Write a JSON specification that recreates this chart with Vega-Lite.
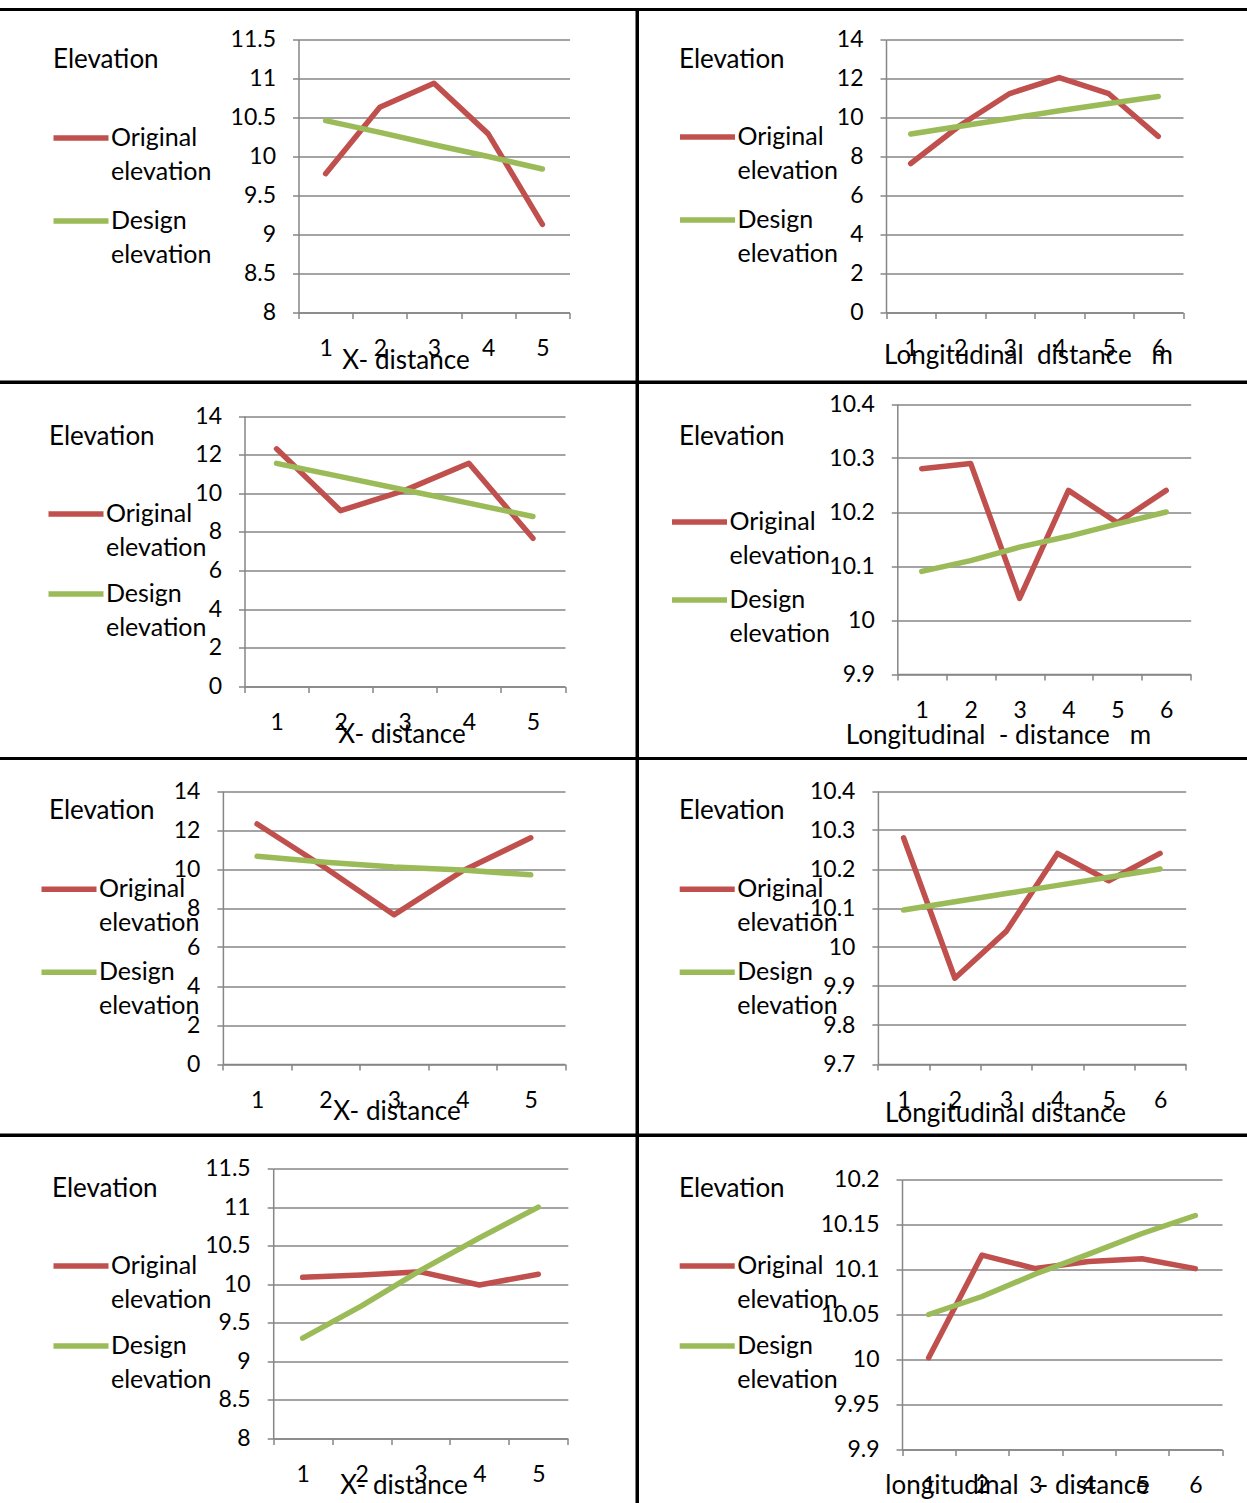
{
  "$schema": "https://vega.github.io/schema/vega-lite/v6.json",
  "background": "white",
  "padding": {"left": -3.5, "top": 7.5, "right": 0, "bottom": 0},
  "datasets": {
    "p1": [
      {"point": 1, "series": "Original elevation", "elevation": 9.78},
      {"point": 2, "series": "Original elevation", "elevation": 10.63},
      {"point": 3, "series": "Original elevation", "elevation": 10.94},
      {"point": 4, "series": "Original elevation", "elevation": 10.29},
      {"point": 5, "series": "Original elevation", "elevation": 9.13},
      {"point": 1, "series": "Design elevation", "elevation": 10.46},
      {"point": 2, "series": "Design elevation", "elevation": 10.31},
      {"point": 3, "series": "Design elevation", "elevation": 10.15},
      {"point": 4, "series": "Design elevation", "elevation": 10.0},
      {"point": 5, "series": "Design elevation", "elevation": 9.84}
    ],
    "p2": [
      {"point": 1, "series": "Original elevation", "elevation": 7.64},
      {"point": 2, "series": "Original elevation", "elevation": 9.6},
      {"point": 3, "series": "Original elevation", "elevation": 11.23},
      {"point": 4, "series": "Original elevation", "elevation": 12.05},
      {"point": 5, "series": "Original elevation", "elevation": 11.22},
      {"point": 6, "series": "Original elevation", "elevation": 9.03},
      {"point": 1, "series": "Design elevation", "elevation": 9.15},
      {"point": 2, "series": "Design elevation", "elevation": 9.55},
      {"point": 3, "series": "Design elevation", "elevation": 9.95},
      {"point": 4, "series": "Design elevation", "elevation": 10.35},
      {"point": 5, "series": "Design elevation", "elevation": 10.72},
      {"point": 6, "series": "Design elevation", "elevation": 11.08}
    ],
    "p3": [
      {"point": 1, "series": "Original elevation", "elevation": 12.3},
      {"point": 2, "series": "Original elevation", "elevation": 9.1},
      {"point": 3, "series": "Original elevation", "elevation": 10.15},
      {"point": 4, "series": "Original elevation", "elevation": 11.55},
      {"point": 5, "series": "Original elevation", "elevation": 7.67},
      {"point": 1, "series": "Design elevation", "elevation": 11.55},
      {"point": 2, "series": "Design elevation", "elevation": 10.86},
      {"point": 3, "series": "Design elevation", "elevation": 10.17},
      {"point": 4, "series": "Design elevation", "elevation": 9.49},
      {"point": 5, "series": "Design elevation", "elevation": 8.8}
    ],
    "p4": [
      {"point": 1, "series": "Original elevation", "elevation": 10.28},
      {"point": 2, "series": "Original elevation", "elevation": 10.29},
      {"point": 3, "series": "Original elevation", "elevation": 10.04},
      {"point": 4, "series": "Original elevation", "elevation": 10.24},
      {"point": 5, "series": "Original elevation", "elevation": 10.18},
      {"point": 6, "series": "Original elevation", "elevation": 10.24},
      {"point": 1, "series": "Design elevation", "elevation": 10.09},
      {"point": 2, "series": "Design elevation", "elevation": 10.11},
      {"point": 3, "series": "Design elevation", "elevation": 10.135},
      {"point": 4, "series": "Design elevation", "elevation": 10.155},
      {"point": 5, "series": "Design elevation", "elevation": 10.178},
      {"point": 6, "series": "Design elevation", "elevation": 10.2}
    ],
    "p5": [
      {"point": 1, "series": "Original elevation", "elevation": 12.31},
      {"point": 2, "series": "Original elevation", "elevation": 10.05},
      {"point": 3, "series": "Original elevation", "elevation": 7.65},
      {"point": 4, "series": "Original elevation", "elevation": 9.9},
      {"point": 5, "series": "Original elevation", "elevation": 11.6},
      {"point": 1, "series": "Design elevation", "elevation": 10.65},
      {"point": 2, "series": "Design elevation", "elevation": 10.35},
      {"point": 3, "series": "Design elevation", "elevation": 10.1},
      {"point": 4, "series": "Design elevation", "elevation": 9.95},
      {"point": 5, "series": "Design elevation", "elevation": 9.7}
    ],
    "p6": [
      {"point": 1, "series": "Original elevation", "elevation": 10.28},
      {"point": 2, "series": "Original elevation", "elevation": 9.92},
      {"point": 3, "series": "Original elevation", "elevation": 10.04},
      {"point": 4, "series": "Original elevation", "elevation": 10.24},
      {"point": 5, "series": "Original elevation", "elevation": 10.17},
      {"point": 6, "series": "Original elevation", "elevation": 10.24},
      {"point": 1, "series": "Design elevation", "elevation": 10.095},
      {"point": 2, "series": "Design elevation", "elevation": 10.116},
      {"point": 3, "series": "Design elevation", "elevation": 10.137},
      {"point": 4, "series": "Design elevation", "elevation": 10.158},
      {"point": 5, "series": "Design elevation", "elevation": 10.179},
      {"point": 6, "series": "Design elevation", "elevation": 10.2}
    ],
    "p7": [
      {"point": 1, "series": "Original elevation", "elevation": 10.09},
      {"point": 2, "series": "Original elevation", "elevation": 10.12},
      {"point": 3, "series": "Original elevation", "elevation": 10.16},
      {"point": 4, "series": "Original elevation", "elevation": 9.99},
      {"point": 5, "series": "Original elevation", "elevation": 10.13},
      {"point": 1, "series": "Design elevation", "elevation": 9.3},
      {"point": 2, "series": "Design elevation", "elevation": 9.72},
      {"point": 3, "series": "Design elevation", "elevation": 10.18},
      {"point": 4, "series": "Design elevation", "elevation": 10.6},
      {"point": 5, "series": "Design elevation", "elevation": 11.0}
    ],
    "p8": [
      {"point": 1, "series": "Original elevation", "elevation": 10.002},
      {"point": 2, "series": "Original elevation", "elevation": 10.116},
      {"point": 3, "series": "Original elevation", "elevation": 10.101},
      {"point": 4, "series": "Original elevation", "elevation": 10.109},
      {"point": 5, "series": "Original elevation", "elevation": 10.112},
      {"point": 6, "series": "Original elevation", "elevation": 10.101},
      {"point": 1, "series": "Design elevation", "elevation": 10.05},
      {"point": 2, "series": "Design elevation", "elevation": 10.07},
      {"point": 3, "series": "Design elevation", "elevation": 10.095},
      {"point": 4, "series": "Design elevation", "elevation": 10.117},
      {"point": 5, "series": "Design elevation", "elevation": 10.14},
      {"point": 6, "series": "Design elevation", "elevation": 10.16}
    ]
  },
  "columns": 2,
  "spacing": 0,
  "bounds": "flush",
  "resolve": {"scale": {"color": "independent"}, "legend": {"color": "independent"}},
  "concat": [
    {
      "width": 638.5, "height": 372.5,
      "data": {"name": "p1"},
      "mark": {"type": "line", "strokeWidth": 5.5, "strokeJoin": "round", "strokeCap": "round"},
      "encoding": {
        "x": {"field": "point", "type": "ordinal", "bandPosition": 0.5,
              "scale": {"type": "band", "range": [300, 571], "paddingInner": 0, "paddingOuter": 0},
              "axis": {"offset": -69.5, "title": "X- distance", "titleX": 407, "titleY": 56}},
        "y": {"field": "elevation", "type": "quantitative",
              "scale": {"domain": [8, 11.5], "range": [303, 30], "nice": false, "zero": false},
              "axis": {"offset": -300, "title": "Elevation", "titleX": -246, "titleY": 58,
                       "values": [8, 8.5, 9, 9.5, 10, 10.5, 11, 11.5]}},
        "color": {"field": "series", "type": "nominal",
                  "scale": {"domain": ["Original elevation", "Design elevation"], "range": ["#C0504D", "#9BBB59"]},
                  "legend": {"title": null, "legendX": 52, "legendY": 98, "labelExpr": "split(datum.label, ' ')",
                             "encoding": {"labels": {"lineHeight": {"value": 34}}}}}
      }
    },
    {
      "width": 613.5, "height": 372.5,
      "data": {"name": "p2"},
      "mark": {"type": "line", "strokeWidth": 5.5, "strokeJoin": "round", "strokeCap": "round"},
      "encoding": {
        "x": {"field": "point", "type": "ordinal", "bandPosition": 0.5,
              "scale": {"type": "band", "range": [248.5, 545.5], "paddingInner": 0, "paddingOuter": 0},
              "axis": {"offset": -69.5, "title": "Longitudinal\u00a0\u00a0distance\u00a0\u00a0\u00a0m", "titleX": 390.5, "titleY": 51}},
        "y": {"field": "elevation", "type": "quantitative",
              "scale": {"domain": [0, 14], "range": [303, 30], "nice": false, "zero": false},
              "axis": {"offset": -248.5, "title": "Elevation", "titleX": -207.5, "titleY": 58,
                       "values": [0, 2, 4, 6, 8, 10, 12, 14]}},
        "color": {"field": "series", "type": "nominal",
                  "scale": {"domain": ["Original elevation", "Design elevation"], "range": ["#C0504D", "#9BBB59"]},
                  "legend": {"title": null, "legendX": 39.5, "legendY": 97, "labelExpr": "split(datum.label, ' ')",
                             "encoding": {"labels": {"lineHeight": {"value": 34}}}}}
      }
    },
    {
      "width": 638.5, "height": 376,
      "data": {"name": "p3"},
      "mark": {"type": "line", "strokeWidth": 5.5, "strokeJoin": "round", "strokeCap": "round"},
      "encoding": {
        "x": {"field": "point", "type": "ordinal", "bandPosition": 0.5,
              "scale": {"type": "band", "range": [246, 566.5], "paddingInner": 0, "paddingOuter": 0},
              "axis": {"offset": -72, "title": "X- distance", "titleX": 403, "titleY": 56}},
        "y": {"field": "elevation", "type": "quantitative",
              "scale": {"domain": [0, 14], "range": [304, 33.5], "nice": false, "zero": false},
              "axis": {"offset": -246, "title": "Elevation", "titleX": -196, "titleY": 61.5,
                       "values": [0, 2, 4, 6, 8, 10, 12, 14]}},
        "color": {"field": "series", "type": "nominal",
                  "scale": {"domain": ["Original elevation", "Design elevation"], "range": ["#C0504D", "#9BBB59"]},
                  "legend": {"title": null, "legendX": 47, "legendY": 101, "rowPadding": 2, "labelExpr": "split(datum.label, ' ')",
                             "encoding": {"labels": {"lineHeight": {"value": 34}}}}}
      }
    },
    {
      "width": 613.5, "height": 376,
      "data": {"name": "p4"},
      "mark": {"type": "line", "strokeWidth": 5.5, "strokeJoin": "round", "strokeCap": "round"},
      "encoding": {
        "x": {"field": "point", "type": "ordinal", "bandPosition": 0.5,
              "scale": {"type": "band", "range": [259.8, 553.2], "paddingInner": 0, "paddingOuter": 0},
              "axis": {"offset": -84.5, "title": "Longitudinal\u00a0\u00a0-\u00a0distance\u00a0\u00a0\u00a0m", "titleX": 360.5, "titleY": 69}},
        "y": {"field": "elevation", "type": "quantitative",
              "scale": {"domain": [9.9, 10.4], "range": [291.5, 21.5], "nice": false, "zero": false},
              "axis": {"offset": -259.8, "title": "Elevation", "titleX": -218.8, "titleY": 61.5,
                       "values": [9.9, 10, 10.1, 10.2, 10.3, 10.4]}},
        "color": {"field": "series", "type": "nominal",
                  "scale": {"domain": ["Original elevation", "Design elevation"], "range": ["#C0504D", "#9BBB59"]},
                  "legend": {"title": null, "legendX": 31.5, "legendY": 109, "rowPadding": -1, "labelExpr": "split(datum.label, ' ')",
                             "encoding": {"labels": {"lineHeight": {"value": 34}}}}}
      }
    },
    {
      "width": 638.5, "height": 376.5,
      "data": {"name": "p5"},
      "mark": {"type": "line", "strokeWidth": 5.5, "strokeJoin": "round", "strokeCap": "round"},
      "encoding": {
        "x": {"field": "point", "type": "ordinal", "bandPosition": 0.5,
              "scale": {"type": "band", "range": [224.4, 566.5], "paddingInner": 0, "paddingOuter": 0},
              "axis": {"offset": -71, "title": "X- distance", "titleX": 398, "titleY": 55}},
        "y": {"field": "elevation", "type": "quantitative",
              "scale": {"domain": [0, 14], "range": [305.5, 32.5], "nice": false, "zero": false},
              "axis": {"offset": -224.4, "title": "Elevation", "titleX": -174.4, "titleY": 60.2,
                       "values": [0, 2, 4, 6, 8, 10, 12, 14]}},
        "color": {"field": "series", "type": "nominal",
                  "scale": {"domain": ["Original elevation", "Design elevation"], "range": ["#C0504D", "#9BBB59"]},
                  "legend": {"title": null, "legendX": 40, "legendY": 100.2, "labelExpr": "split(datum.label, ' ')",
                             "encoding": {"labels": {"lineHeight": {"value": 34}}}}}
      }
    },
    {
      "width": 613.5, "height": 376.5,
      "data": {"name": "p6"},
      "mark": {"type": "line", "strokeWidth": 5.5, "strokeJoin": "round", "strokeCap": "round"},
      "encoding": {
        "x": {"field": "point", "type": "ordinal", "bandPosition": 0.5,
              "scale": {"type": "band", "range": [240.4, 548.2], "paddingInner": 0, "paddingOuter": 0},
              "axis": {"offset": -71, "title": "Longitudinal distance", "titleX": 367.5, "titleY": 57}},
        "y": {"field": "elevation", "type": "quantitative",
              "scale": {"domain": [9.7, 10.4], "range": [305.5, 32.5], "nice": false, "zero": false},
              "axis": {"offset": -240.4, "title": "Elevation", "titleX": -199.4, "titleY": 60.2,
                       "values": [9.7, 9.8, 9.9, 10, 10.1, 10.2, 10.3, 10.4]}},
        "color": {"field": "series", "type": "nominal",
                  "scale": {"domain": ["Original elevation", "Design elevation"], "range": ["#C0504D", "#9BBB59"]},
                  "legend": {"title": null, "legendX": 39.2, "legendY": 100.2, "labelExpr": "split(datum.label, ' ')",
                             "encoding": {"labels": {"lineHeight": {"value": 34}}}}}
      }
    },
    {
      "width": 638.5, "height": 376,
      "data": {"name": "p7"},
      "mark": {"type": "line", "strokeWidth": 5.5, "strokeJoin": "round", "strokeCap": "round"},
      "encoding": {
        "x": {"field": "point", "type": "ordinal", "bandPosition": 0.5,
              "scale": {"type": "band", "range": [274.7, 569.3], "paddingInner": 0, "paddingOuter": 0},
              "axis": {"offset": -73, "title": "X- distance", "titleX": 405, "titleY": 55}},
        "y": {"field": "elevation", "type": "quantitative",
              "scale": {"domain": [8, 11.5], "range": [303, 33], "nice": false, "zero": false},
              "axis": {"offset": -274.7, "title": "Elevation", "titleX": -221.7, "titleY": 61,
                       "values": [8, 8.5, 9, 9.5, 10, 10.5, 11, 11.5]}},
        "color": {"field": "series", "type": "nominal",
                  "scale": {"domain": ["Original elevation", "Design elevation"], "range": ["#C0504D", "#9BBB59"]},
                  "legend": {"title": null, "legendX": 52, "legendY": 100, "rowPadding": 2, "labelExpr": "split(datum.label, ' ')",
                             "encoding": {"labels": {"lineHeight": {"value": 34}}}}}
      }
    },
    {
      "width": 613.5, "height": 376,
      "data": {"name": "p8"},
      "mark": {"type": "line", "strokeWidth": 5.5, "strokeJoin": "round", "strokeCap": "round"},
      "encoding": {
        "x": {"field": "point", "type": "ordinal", "bandPosition": 0.5,
              "scale": {"type": "band", "range": [264.5, 584.5], "paddingInner": 0, "paddingOuter": 0},
              "axis": {"offset": -62, "title": "longitudinal\u00a0\u00a0\u00a0- distance", "titleX": 379.5, "titleY": 44}},
        "y": {"field": "elevation", "type": "quantitative",
              "scale": {"domain": [9.9, 10.2], "range": [314, 44], "nice": false, "zero": false},
              "axis": {"offset": -264.5, "title": "Elevation", "titleX": -223.5, "titleY": 61,
                       "values": [9.9, 9.95, 10, 10.05, 10.1, 10.15, 10.2]}},
        "color": {"field": "series", "type": "nominal",
                  "scale": {"domain": ["Original elevation", "Design elevation"], "range": ["#C0504D", "#9BBB59"]},
                  "legend": {"title": null, "legendX": 39.2, "legendY": 100, "rowPadding": 2, "labelExpr": "split(datum.label, ' ')",
                             "encoding": {"labels": {"lineHeight": {"value": 34}}}}}
      }
    }
  ],
  "config": {
    "view": {"stroke": "black", "strokeWidth": 3, "fill": "white"},
    "font": "Lato",
    "axis": {
      "labelFont": "Lato", "labelFontSize": 23, "labelColor": "black",
      "titleFont": "Lato", "titleFontSize": 26, "titleFontWeight": "normal", "titleColor": "black",
      "domainColor": "#868686", "domainWidth": 1.5,
      "tickColor": "#868686", "tickWidth": 1.5, "tickSize": 6,
      "gridColor": "#868686", "gridWidth": 1.5,
      "labelOverlap": false, "labelFlush": false, "format": ".2~f"
    },
    "axisX": {"grid": false, "labelAngle": 0, "labelPadding": 19, "tickBand": "extent",
              "titleAlign": "center", "titleBaseline": "alphabetic", "titleAngle": 0},
    "axisY": {"grid": true, "labelPadding": 17, "titleAngle": 0, "titleAlign": "left", "titleBaseline": "alphabetic"},
    "legend": {
      "orient": "none", "direction": "vertical",
      "symbolType": "stroke", "symbolSize": 3025, "symbolStrokeWidth": 5.5,
      "labelFont": "Lato", "labelFontSize": 25, "labelColor": "black", "labelOffset": -0.5, "labelLimit": 400,
      "rowPadding": 5
    }
  }
}
